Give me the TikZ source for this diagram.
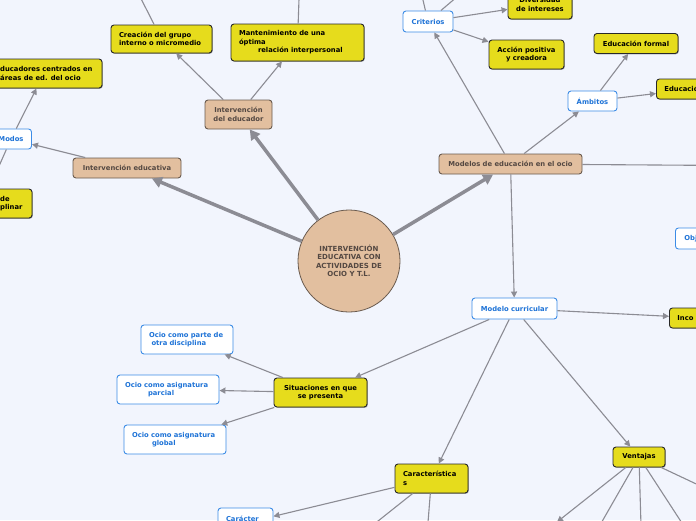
\documentclass[tikz,border=0pt]{standalone}
\usepackage{fontspec}
\setmainfont{DejaVu Sans}
\usetikzlibrary{arrows.meta,shadows}
\definecolor{bgc}{RGB}{242,245,253}
\definecolor{tanf}{RGB}{226,191,159}
\definecolor{tand}{RGB}{105,90,78}
\definecolor{tant}{RGB}{84,72,66}
\definecolor{yelf}{RGB}{230,220,28}
\definecolor{yeld}{RGB}{40,40,40}
\definecolor{bluet}{RGB}{30,115,215}
\definecolor{blued}{RGB}{60,140,230}
\definecolor{linec}{RGB}{140,140,148}
\begin{document}
\begin{tikzpicture}[x=1pt,y=-1pt,
  every node/.style={font=\fontsize{6.8pt}{8.5pt}\selectfont\bfseries, inner ysep=0pt, inner xsep=8pt},
  box/.style={rectangle, rounded corners=3pt, line width=0.9pt},
  tanbox/.style={box, fill=tanf, draw=tand, text=tant},
  yelbox/.style={box, fill=yelf, draw=yeld, text=black, drop shadow={shadow xshift=0.8pt, shadow yshift=-0.8pt, opacity=0.35, fill=black}},
  whbox/.style={box, fill=white, draw=blued, text=bluet},
  txt/.style={inner sep=0pt, anchor=west, align=left, text=black},
  conn/.style={draw=linec, line width=1.1pt, -{Triangle[length=6pt,width=6pt]}},
  bigconn/.style={draw=linec, line width=3.5pt, -{Triangle[length=10pt,width=11pt]}}
]
\useasboundingbox (0,0) rectangle (696,520);
\clip (0,0) rectangle (696,520);
\fill[bgc] (0,0) rectangle (696,520);

% central
\node[circle, minimum size=102pt, fill=tanf, draw=tand, line width=0.8pt, text=tant, align=center, inner sep=0pt,
      font=\fontsize{7pt}{8.5pt}\selectfont\bfseries] (c) at (349,261) {INTERVENCIÓN\\EDUCATIVA CON\\ACTIVIDADES DE\\OCIO Y T.L.};

% first level
\node[tanbox, minimum width=108pt, minimum height=20pt] (ie) at (127,168) {Intervención educativa};
\node[tanbox, minimum width=67pt, minimum height=29pt, align=center] (ied) at (238.5,114.5) {Intervención\\del educador};
\node[tanbox, minimum width=143pt, minimum height=20pt] (mod) at (510.5,164) {Modelos de educación en el ocio};

% intervención del educador
\node[yelbox, text width=85pt, minimum height=28pt, align=left] (cre) at (161.5,39) {Creación del grupo\\interno o micromedio};
\node[yelbox, text width=117pt, minimum height=37pt, align=left] (man) at (297.5,42.5) {Mantenimiento de una\\óptima\\\hspace*{19pt}relación interpersonal};

% intervención educativa
\node[yelbox, minimum width=116pt, minimum height=29pt] (duc) at (44,73.5) {};
\node[txt] (ducT) at (0,73.5) {ducadores centrados en\\áreas de ed. del ocio};
\node[whbox, minimum width=40pt, minimum height=20pt] (modos) at (11,139) {Modos};
\node[yelbox, minimum width=48pt, minimum height=29pt] (dis) at (8,203.5) {};
\node[txt] (disT) at (0,203.5) {de\\plinar};

% modelos
\node[whbox, minimum width=50pt, minimum height=21pt] (cri) at (428,21.5) {Criterios};
\node[yelbox, minimum width=64pt, minimum height=29pt, align=center] (div) at (540,4.5) {Diversidad\\de intereses};
\node[yelbox, minimum width=75pt, minimum height=29pt, align=center] (acc) at (526.5,54.5) {Acción positiva\\y creadora};
\node[yelbox, minimum width=84pt, minimum height=20pt] (edf) at (636,43.5) {Educación formal};
\node[whbox, minimum width=49pt, minimum height=20pt] (amb) at (592.5,101) {Ámbitos};
\node[yelbox, anchor=west, text width=60pt, align=left, minimum height=20pt] (edn) at (656,89) {Educació};
\node[whbox, anchor=west, text width=40pt, align=left, inner xsep=9pt, minimum height=21pt] (obj) at (675,238.5) {Obj};
\node[whbox, minimum width=85pt, minimum height=21pt] (cur) at (514.5,308.5) {Modelo curricular};
\node[yelbox, anchor=west, text width=50pt, align=left, minimum height=20pt] (inc) at (669,318) {Inco};

% modelo curricular
\node[yelbox, minimum width=93pt, minimum height=29pt, align=center] (sit) at (320.5,392.5) {Situaciones en que\\se presenta};
\node[whbox, text width=76pt, minimum height=29pt, align=left] (ocp) at (187,339.5) {Ocio como parte de\\\hspace*{2.5pt}otra disciplina};
\node[whbox, text width=86pt, minimum height=29pt, align=left] (oca) at (168,389.5) {Ocio como asignatura\\\hspace*{23pt}parcial};
\node[whbox, text width=86pt, minimum height=29pt, align=left] (ocg) at (175,439.5) {Ocio como asignatura\\\hspace*{20pt}global};
\node[yelbox, text width=57pt, minimum height=29pt, align=left] (car) at (431.5,478.5) {Característica\\s};
\node[whbox, text width=39pt, minimum height=30pt, align=left] (cact) at (245.5,523) {Carácter\\\mbox{}};
\node[yelbox, minimum width=52pt, minimum height=20pt] (ven) at (639,457) {Ventajas};

% off-screen ends
\coordinate (fcre) at (131,-21);
\coordinate (fman) at (300,-30);
\coordinate (fcri1) at (416,-30);
\coordinate (fcri2) at (485,-27);
\coordinate (fmodos) at (-16,200);
\coordinate (fmod) at (800,166);
\coordinate (fcar1) at (329,560);
\coordinate (fcar2) at (425,560);
\coordinate (fven1) at (557,522);
\coordinate (fven2) at (580,560);
\coordinate (fven3) at (642,560);
\coordinate (fven4) at (706,560);
\coordinate (fven5) at (760,514);

% connectors
\draw[bigconn] (c) -- (ie);
\draw[bigconn] (c) -- (ied);
\draw[bigconn] (c) -- (mod);
\draw[conn] (ie) -- (modos);
\draw[conn] (modos) -- (duc);
\draw[conn] (modos) -- (fmodos);
\draw[conn] (ied) -- (cre);
\draw[conn] (ied) -- (man);
\draw[conn] (cre) -- (fcre);
\draw[conn] (man) -- (fman);
\draw[conn] (mod) -- (cri);
\draw[conn] (cri) -- (div);
\draw[conn] (cri) -- (acc);
\draw[conn] (cri) -- (fcri1);
\draw[conn] (cri) -- (fcri2);
\draw[conn] (mod) -- (amb);
\draw[conn] (amb) -- (edf);
\draw[conn] (amb) -- (edn);
\draw[conn] (mod) -- (fmod);
\draw[conn] (mod) -- (cur);
\draw[conn] (cur) -- (inc);
\draw[conn] (cur) -- (sit);
\draw[conn] (cur) -- (car);
\draw[conn] (cur) -- (ven);
\draw[conn] (sit) -- (ocp);
\draw[conn] (sit) -- (oca);
\draw[conn] (sit) -- (ocg);
\draw[conn] (car) -- (cact);
\draw[conn] (car) -- (fcar1);
\draw[conn] (car) -- (fcar2);
\draw[conn] (ven) -- (fven1);
\draw[conn] (ven) -- (fven2);
\draw[conn] (ven) -- (fven3);
\draw[conn] (ven) -- (fven4);
\draw[conn] (ven) -- (fven5);
\end{tikzpicture}
\end{document}
